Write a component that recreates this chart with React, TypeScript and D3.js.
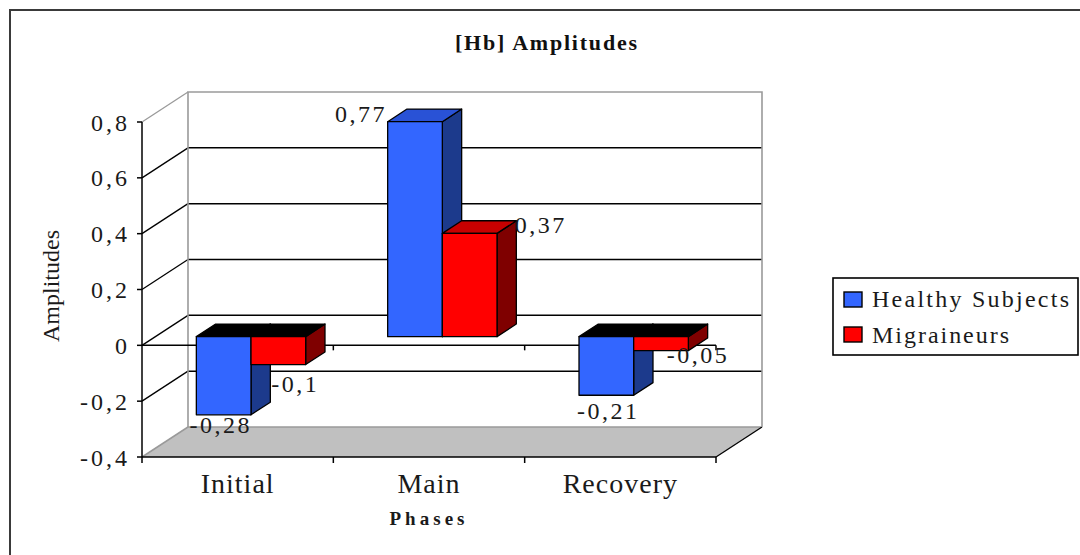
import React from "react";
import * as d3 from "d3";

const categories = ["Initial", "Main", "Recovery"];
const seriesNames = ["Healthy Subjects", "Migraineurs"];
const healthy = [-0.28, 0.77, -0.21];
const migraineurs = [-0.1, 0.37, -0.05];
const yTicks = [-0.4, -0.2, 0, 0.2, 0.4, 0.6, 0.8];

const seriesValues = [healthy, migraineurs];

// layout (not data): label offsets from bar front-face center / value end
const labelOffsets = [
  [[-3, 18], [-54, 0], [2, 24]],
  [[17, 27], [71, 0], [37, 12]],
];

const colors = [
  { front: "#3366ff", side: "#1c3a8c", top: "#2952d6" },
  { front: "#ff0000", side: "#7f0000", top: "#c80000" },
];

const fmt = (v: number) => String(v).replace(".", ",");

const W = 1080;
const H = 555;
const DX = 46;
const DY = -30;
const D0 = 0.29;
const D1 = 0.71;
const FONT = "'Liberation Serif', 'Times New Roman', serif";

export default function App() {
  const y = d3.scaleLinear().domain([-0.4, 0.8]).range([457, 122]);
  const x = d3
    .scaleBand<string>()
    .domain(categories)
    .range([142, 716])
    .paddingInner(1.5 / 3.5)
    .paddingOuter(0.75 / 3.5);
  const xs = d3
    .scaleBand<number>()
    .domain([0, 1])
    .range([0, x.bandwidth()]);

  const P = (px: number, v: number, d: number): [number, number] => [
    px + d * DX,
    y(v) + d * DY,
  ];
  const pts = (arr: [number, number][]) => arr.map((p) => p.join(",")).join(" ");

  const x0 = x.range()[0];
  const x1 = x.range()[1];
  const vMin = y.domain()[0];
  const vMax = y.domain()[1];

  const catEdges = [x0, ...categories.map((c) => (x(c) as number) + x.bandwidth() + (x.step() - x.bandwidth()) / 2)];
  catEdges[catEdges.length - 1] = x1;

  const bars: JSX.Element[] = [];
  const labels: JSX.Element[] = [];
  categories.forEach((c, ci) => {
    seriesValues.forEach((vals, si) => {
      const v = vals[ci];
      const bx0 = (x(c) as number) + (xs(si) as number);
      const bx1 = bx0 + xs.bandwidth();
      const vt = Math.max(v, 0);
      const vb = Math.min(v, 0);
      const col = colors[si];
      const topFill = v < 0 ? "#000000" : col.top;
      const f0 = P(bx0, vt, D0);
      const f1 = P(bx1, vb, D0);
      bars.push(
        <g key={`b${ci}-${si}`} stroke="#000" strokeWidth={1.3} strokeLinejoin="round">
          <polygon
            points={pts([P(bx1, vt, D0), P(bx1, vt, D1), P(bx1, vb, D1), P(bx1, vb, D0)])}
            fill={col.side}
          />
          <polygon
            points={pts([P(bx0, vt, D0), P(bx1, vt, D0), P(bx1, vt, D1), P(bx0, vt, D1)])}
            fill={topFill}
          />
          <rect x={f0[0]} y={f0[1]} width={f1[0] - f0[0]} height={f1[1] - f0[1]} fill={col.front} />
        </g>
      );
      const cx = (f0[0] + f1[0]) / 2;
      const yv = P(bx0, v, D0)[1];
      const [odx, ody] = labelOffsets[si][ci];
      labels.push(
        <text
          key={`l${ci}-${si}`}
          x={cx + odx}
          y={yv + ody}
          textAnchor="middle"
          fontFamily={FONT}
          fontSize={24}
          letterSpacing={2.5}
          fill="#1a1a1a"
        >
          {fmt(v)}
        </text>
      );
    });
  });

  return (
    <svg
      width={W}
      height={H}
      style={{ position: "absolute", left: 0, top: 0, background: "#fff" }}
    >
      <rect x={0} y={0} width={W} height={H} fill="#fff" />
      <rect x={10} y={10} width={1200} height={800} fill="none" stroke="#3a3a3a" strokeWidth={2} />

      {/* title */}
      <text
        x={546}
        y={50}
        textAnchor="middle"
        fontFamily={FONT}
        fontWeight="bold"
        fontSize={22}
        textLength={182}
        lengthAdjust="spacing"
        fill="#111"
      >
        [Hb] Amplitudes
      </text>

      {/* floor */}
      <polygon
        points={pts([P(x0, vMin, 0), P(x1, vMin, 0), P(x1, vMin, 1), P(x0, vMin, 1)])}
        fill="#c0c0c0"
        stroke="none"
      />
      <line
        x1={P(x0, vMin, 1)[0]} y1={P(x0, vMin, 1)[1]}
        x2={P(x1, vMin, 1)[0]} y2={P(x1, vMin, 1)[1]}
        stroke="#9a9a9a" strokeWidth={1.5}
      />
      <line
        x1={P(x0, vMin, 0)[0]} y1={P(x0, vMin, 0)[1]}
        x2={P(x0, vMin, 1)[0]} y2={P(x0, vMin, 1)[1]}
        stroke="#9a9a9a" strokeWidth={1.5}
      />
      <line
        x1={P(x1, vMin, 0)[0]} y1={P(x1, vMin, 0)[1]}
        x2={P(x1, vMin, 1)[0]} y2={P(x1, vMin, 1)[1]}
        stroke="#000" strokeWidth={1.3}
      />

      {/* back wall gridlines */}
      {yTicks.filter((t) => t > vMin && t < vMax).map((t) => (
        <line
          key={`g${t}`}
          x1={P(x0, t, 1)[0]} y1={P(x0, t, 1)[1]}
          x2={P(x1, t, 1)[0]} y2={P(x1, t, 1)[1]}
          stroke="#000" strokeWidth={1.5}
        />
      ))}
      {/* side wall gridlines */}
      {yTicks.filter((t) => t > vMin).map((t) => (
        <line
          key={`s${t}`}
          x1={P(x0, t, 0)[0]} y1={P(x0, t, 0)[1]}
          x2={P(x0, t, 1)[0]} y2={P(x0, t, 1)[1]}
          stroke={t === vMax ? "#9a9a9a" : "#000"}
          strokeWidth={1.3}
        />
      ))}
      {/* back wall frame */}
      <polyline
        points={pts([P(x0, vMin, 1), P(x0, vMax, 1), P(x1, vMax, 1), P(x1, vMin, 1)])}
        fill="none"
        stroke="#9a9a9a"
        strokeWidth={1.6}
      />

      {/* value axis */}
      <line x1={x0} y1={y(vMin)} x2={x0} y2={y(vMax)} stroke="#000" strokeWidth={1.5} />
      {yTicks.map((t, i) => (
        <g key={`t${i}`}>
          <line x1={x0 - 5} y1={y(t)} x2={x0} y2={y(t)} stroke="#000" strokeWidth={1.5} />
          <text
            x={130}
            y={y(t) + 8.5}
            textAnchor="end"
            fontFamily={FONT}
            fontSize={24}
            letterSpacing={3}
            fill="#1a1a1a"
          >
            {fmt(t)}
          </text>
        </g>
      ))}

      {/* category axis at zero */}
      <line x1={x0} y1={y(0)} x2={x1} y2={y(0)} stroke="#000" strokeWidth={1.5} />
      {catEdges.slice(1).map((e, i) => (
        <line key={`z${i}`} x1={e} y1={y(0)} x2={e} y2={y(0) + 5} stroke="#000" strokeWidth={1.5} />
      ))}
      {/* floor front edge */}
      <line x1={x0} y1={y(vMin)} x2={x1} y2={y(vMin)} stroke="#000" strokeWidth={1.5} />
      {catEdges.map((e, i) => (
        <line key={`f${i}`} x1={e} y1={y(vMin)} x2={e} y2={y(vMin) + 6} stroke="#000" strokeWidth={1.5} />
      ))}

      {bars}
      {labels}

      {/* category labels */}
      {categories.map((c) => (
        <text
          key={c}
          x={(x(c) as number) + x.bandwidth() / 2}
          y={493}
          textAnchor="middle"
          fontFamily={FONT}
          fontSize={28}
          letterSpacing={1}
          fill="#1a1a1a"
        >
          {c}
        </text>
      ))}
      <text
        x={427}
        y={525}
        textAnchor="middle"
        fontFamily={FONT}
        fontWeight="bold"
        fontSize={19}
        textLength={75}
        lengthAdjust="spacing"
        fill="#1a1a1a"
      >
        Phases
      </text>

      {/* y axis title */}
      <text
        transform="translate(59,286) rotate(-90)"
        textAnchor="middle"
        fontFamily={FONT}
        fontSize={24}
        fill="#1a1a1a"
      >
        Amplitudes
      </text>

      {/* legend */}
      <rect x={833} y={278} width={245} height={77} fill="#fff" stroke="#000" strokeWidth={1.6} />
      {seriesNames.map((n, i) => (
        <g key={n}>
          <rect x={844} y={292 + i * 35} width={18} height={15} fill={colors[i].front} stroke="#000" strokeWidth={1.4} />
          <text
            x={872}
            y={307 + i * 36}
            fontFamily={FONT}
            fontSize={24}
            textLength={i === 0 ? 197 : 137}
            lengthAdjust="spacing"
            fill="#1a1a1a"
          >
            {n}
          </text>
        </g>
      ))}
    </svg>
  );
}
